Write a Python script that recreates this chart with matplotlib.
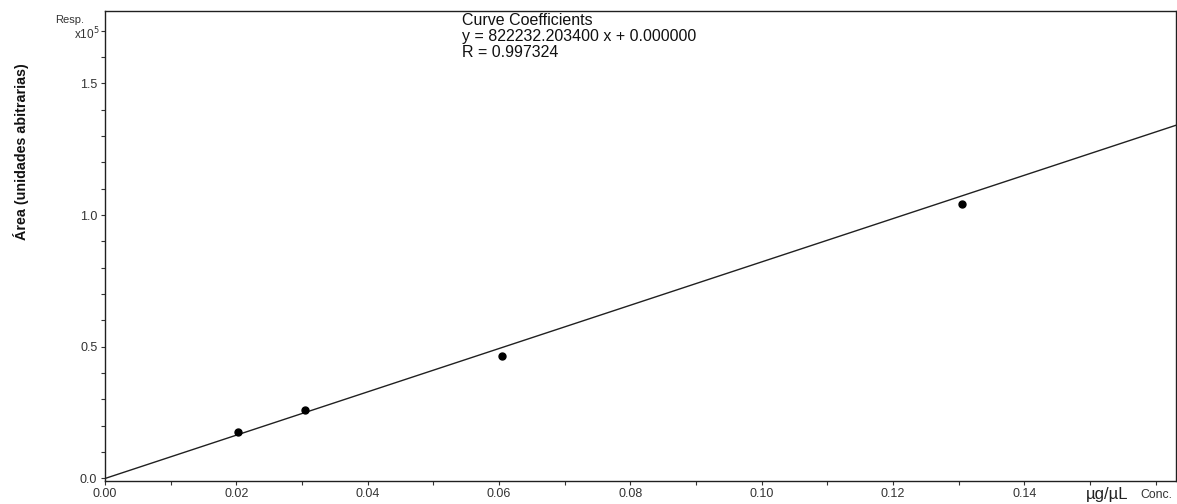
import numpy as np
import matplotlib
matplotlib.use("Agg")
import matplotlib.pyplot as plt
from matplotlib.ticker import MultipleLocator, FixedLocator

# --- calibration data (x in ug/uL, y in units of 1e5) ---
conc = [0.0203, 0.0304, 0.0604, 0.1305]
area = [0.1754, 0.2590, 0.4662, 1.0410]
slope = 822232.203400
intercept = 0.0
r_value = 0.997324

x_major = [0.00, 0.02, 0.04, 0.06, 0.08, 0.10, 0.12, 0.14, 0.16]
x_labels = ["0.00", "0.02", "0.04", "0.06", "0.08", "0.10", "0.12", "0.14", ""]
y_major = [0.0, 0.5, 1.0, 1.5]
y_labels = ["0.0", "0.5", "1.0", "1.5"]

plt.rcParams["font.family"] = ["Liberation Sans", "DejaVu Sans"]

fig = plt.figure(figsize=(11.77, 5.04), dpi=100)
ax = fig.add_axes([105 / 1177, (504 - 480.7) / 504, 1071 / 1177, 470 / 504])

xmax = 0.1631
ax.set_xlim(0, xmax)
ax.set_ylim(-0.0084, 1.776)

# fitted curve
xs = np.array([0.0, xmax])
ax.plot(xs, (slope * xs + intercept) / 1e5, color="#202020", linewidth=1.0, zorder=2)
ax.plot(conc, area, "o", color="black", markersize=5, zorder=3)

tick_font = dict(size=9)
ax.xaxis.set_major_locator(FixedLocator(x_major))
ax.set_xticklabels(x_labels, **tick_font, color="#333333")
ax.xaxis.set_minor_locator(MultipleLocator(0.01))
ax.yaxis.set_major_locator(FixedLocator(y_major))
ax.set_yticklabels(y_labels, **tick_font, color="#333333")
ax.yaxis.set_minor_locator(MultipleLocator(0.1))
ax.tick_params(which="both", direction="out", length=3, width=0.8, color="#333333", pad=2.5)

for side in ["left", "bottom", "top", "right"]:
    ax.spines[side].set_color("#202020")
    ax.spines[side].set_linewidth(1.0)

# axis annotations in the style of the instrument software
fig.text(84 / 1177, 1 - 20 / 504, "Resp.", ha="right", va="center", fontsize=8, color="#333333")
fig.text(100 / 1177, 1 - 34 / 504, r"x10$^5$", ha="right", va="center", fontsize=8.5, color="#333333")
fig.text(1107 / 1177, 1 - 495 / 504, "µg/µL", ha="center", va="center", fontsize=12, color="#222222")
fig.text(1156 / 1177, 1 - 495 / 504, "Conc.", ha="center", va="center", fontsize=8.8, color="#333333")

fig.text(21 / 1177, 1 - 152 / 504, "Área (unidades abitrarias)", rotation=90, ha="center", va="center",
         fontsize=10.3, fontweight="bold", color="#111111")

coef_text = "Curve Coefficients\ny = {:.6f} x + {:.6f}\nR = {:.6f}".format(slope, intercept, r_value)
fig.text(462 / 1177, 1 - 36.5 / 504, coef_text, ha="left", va="center", fontsize=11.5, color="#111111",
         linespacing=1.1)

fig.savefig("out.png", dpi=100)
